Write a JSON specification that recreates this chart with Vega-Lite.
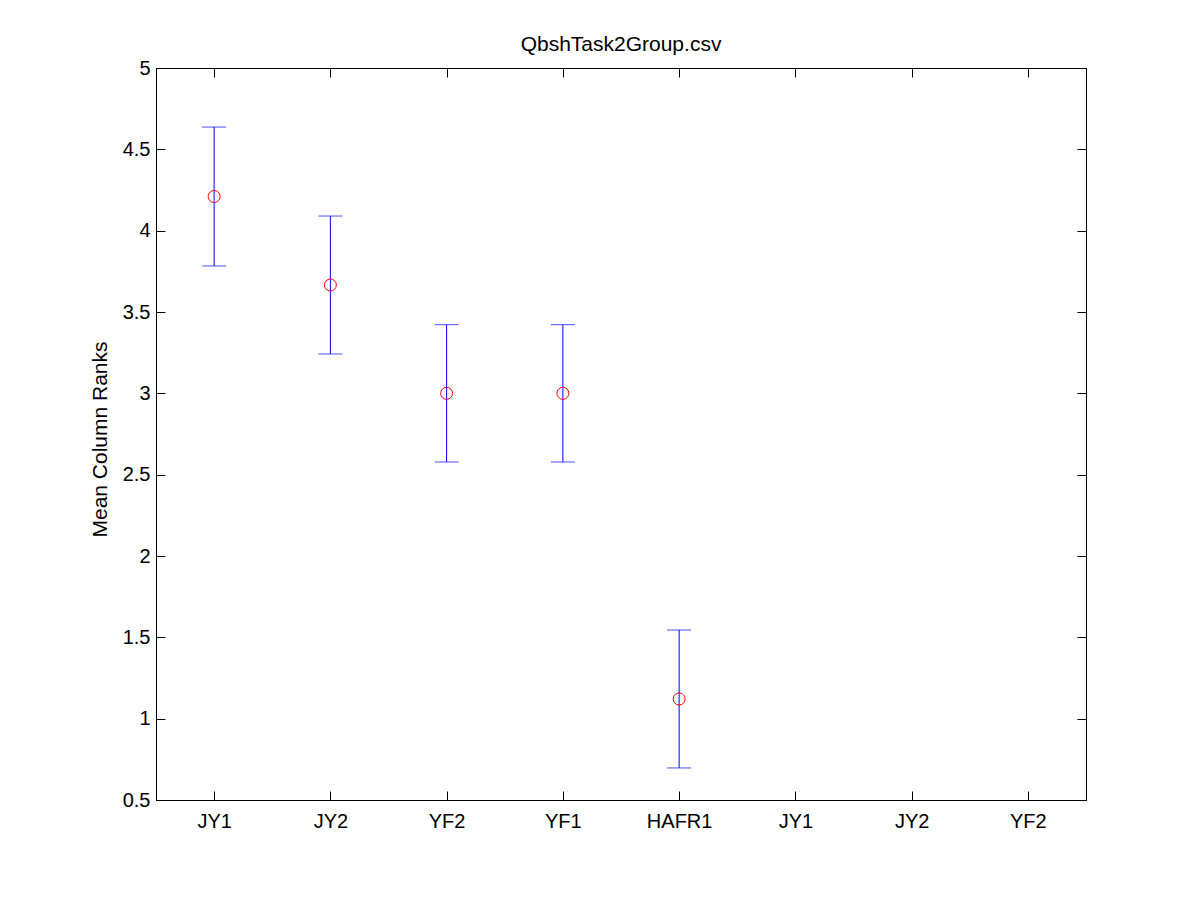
{
  "$schema": "https://vega.github.io/schema/vega-lite/v6.json",
  "autosize": "none",
  "width": 930,
  "height": 732,
  "padding": {"left": 156, "top": 68, "right": 114, "bottom": 100},
  "background": "white",
  "config": {
    "font": "Liberation Sans",
    "view": {"stroke": "black", "strokeWidth": 1},
    "axis": {
      "grid": false,
      "domainColor": "black",
      "tickColor": "black",
      "labelColor": "black",
      "titleColor": "black",
      "tickSize": -9,
      "labelFont": "Liberation Sans",
      "titleFont": "Liberation Sans",
      "labelFontSize": 20,
      "titleFontSize": 21,
      "titleFontWeight": "normal"
    }
  },
  "title": {
    "text": "QbshTask2Group.csv",
    "font": "Liberation Sans",
    "fontSize": 21,
    "fontWeight": "normal",
    "color": "black",
    "anchor": "middle",
    "frame": "group",
    "offset": 3
  },
  "data": {
    "values": [
      {"pos": 1, "label": "JY1", "mean": 4.21, "lo": 3.783, "hi": 4.637},
      {"pos": 2, "label": "JY2", "mean": 3.666, "lo": 3.242, "hi": 4.09},
      {"pos": 3, "label": "YF2", "mean": 3.0, "lo": 2.578, "hi": 3.422},
      {"pos": 4, "label": "YF1", "mean": 3.0, "lo": 2.578, "hi": 3.422},
      {"pos": 5, "label": "HAFR1", "mean": 1.121, "lo": 0.697, "hi": 1.545}
    ]
  },
  "layer": [
    {
      "encoding": {
        "x": {
          "field": "pos", "type": "quantitative",
          "scale": {"domain": [0.5, 8.5], "nice": false, "zero": false},
          "axis": {
            "title": null,
            "values": [1, 2, 3, 4, 5, 6, 7, 8],
            "labelExpr": "['JY1','JY2','YF2','YF1','HAFR1','JY1','JY2','YF2'][datum.value - 1]",
            "labelBaseline": "alphabetic",
            "labelPadding": 36,
            "labelFlush": false,
            "labelOverlap": false
          }
        },
        "y": {
          "field": "mean", "type": "quantitative",
          "scale": {"domain": [0.5, 5], "nice": false, "zero": false},
          "axis": {
            "title": "Mean Column Ranks",
            "values": [0.5, 1, 1.5, 2, 2.5, 3, 3.5, 4, 4.5, 5],
            "format": "~g",
            "labelPadding": 15,
            "labelFlush": false,
            "labelOverlap": false,
            "titleX": -50,
            "titleY": 371,
            "titleBaseline": "alphabetic",
            "titleAlign": "center",
            "titleAngle": -90
          }
        }
      },
      "layer": [
        {
          "mark": {"type": "rule", "color": "#0000ff", "strokeWidth": 1},
          "encoding": {
            "y": {"field": "lo", "type": "quantitative"},
            "y2": {"field": "hi"}
          }
        },
        {
          "mark": {"type": "tick", "orient": "horizontal", "color": "#0000ff", "size": 24, "thickness": 1},
          "encoding": {"y": {"field": "lo", "type": "quantitative"}}
        },
        {
          "mark": {"type": "tick", "orient": "horizontal", "color": "#0000ff", "size": 24, "thickness": 1},
          "encoding": {"y": {"field": "hi", "type": "quantitative"}}
        },
        {
          "mark": {"type": "point", "shape": "circle", "filled": false, "color": "#ff0000", "size": 144, "strokeWidth": 1, "opacity": 1}
        }
      ]
    },
    {
      "mark": {"type": "point", "opacity": 0},
      "encoding": {
        "x": {
          "field": "pos", "type": "quantitative",
          "scale": {"domain": [0.5, 8.5], "nice": false, "zero": false},
          "axis": {"orient": "top", "title": null, "labels": false, "values": [1, 2, 3, 4, 5, 6, 7, 8]}
        },
        "y": {
          "field": "mean", "type": "quantitative",
          "scale": {"domain": [0.5, 5], "nice": false, "zero": false},
          "axis": {"orient": "right", "title": null, "labels": false, "values": [0.5, 1, 1.5, 2, 2.5, 3, 3.5, 4, 4.5, 5]}
        }
      }
    }
  ],
  "resolve": {"axis": {"x": "independent", "y": "independent"}}
}
